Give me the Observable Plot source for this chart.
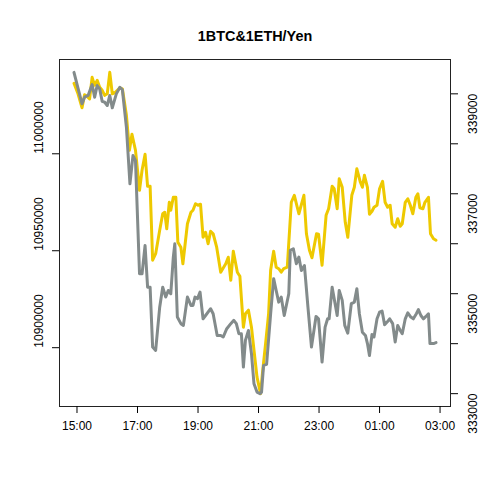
<!DOCTYPE html>
<html>
<head>
<meta charset="utf-8">
<script src="https://cdn.jsdelivr.net/npm/d3@7"></script>
<script src="https://cdn.jsdelivr.net/npm/@observablehq/plot@0.6"></script>
<style>
  body { margin: 0; background: white; }
</style>
</head>
<body>
<div id="chart"></div>
<script>
const title = "1BTC&1ETH/Yen";

const btcTimes = ["14:54","15:10","15:15","15:22","15:30","15:35","15:40","15:45","15:50","15:55",
"16:00","16:05","16:10","16:18","16:25","16:30","16:38","16:45","16:51","16:56",
"17:04","17:09","17:15","17:20","17:25","17:30","17:36","17:44","17:50","17:56",
"18:01","18:06","18:11","18:14","18:19","18:26","18:31","18:39","18:46","18:50",
"18:54","18:59","19:04","19:10","19:15","19:25","19:30","19:38","19:45","19:50",
"19:57","20:05","20:11","20:16","20:21","20:26","20:30","20:34","20:40","20:46",
"20:51","20:57","21:03","21:06","21:10","21:16","21:24","21:30","21:35","21:40",
"21:45","21:51","22:00","22:03","22:09","22:15","22:20","22:25","22:31","22:38",
"22:45","22:54","22:59","23:06","23:12","23:17","23:20","23:26","23:36","23:40",
"23:46","23:51","23:57","00:04","00:10","00:15","00:20","00:26","00:32","00:36",
"00:40","00:45","00:49","00:55","01:00","01:05","01:10","01:15","01:20","01:26",
"01:31","01:36","01:41","01:45","01:51","01:56","02:02","02:07","02:13","02:17",
"02:22","02:27","02:32","02:37","02:40","02:47","02:52"];
const btcValues = [11042000,11025800,11029200,11030100,11035700,11029200,11035200,11033500,11027000,11026600,
11024900,11030100,11023700,11030900,11034300,11033000,11013700,10984500,10999100,10996500,
10938100,10938100,10952700,10931200,10931200,10900300,10898600,10920900,10931200,10926100,
10929500,10927800,10946700,10953600,10915800,10912400,10911500,10926100,10921800,10921800,
10926100,10925300,10928700,10914900,10916600,10920100,10917500,10906300,10906300,10905500,
10909800,10912400,10914100,10912400,10907200,10907200,10890000,10903800,10908900,10896900,
10881400,10877100,10876300,10877100,10890900,10891400,10917500,10935600,10929500,10923500,
10926100,10916600,10927800,10950200,10951000,10943300,10946700,10939800,10942400,10920900,
10900300,10916100,10914900,10892600,10910600,10914900,10914900,10931200,10916600,10929500,
10924400,10911500,10907500,10922700,10923500,10930400,10917500,10908000,10906300,10902100,
10896000,10906800,10905500,10914900,10918300,10918900,10911800,10913200,10914900,10912400,
10902900,10911500,10908900,10907200,10914900,10918000,10915800,10914900,10917500,10919600,
10916600,10914900,10916100,10917500,10902100,10902100,10902600];

const ethTimes = ["14:54","15:02","15:10","15:15","15:20","15:25","15:30","15:35","15:40","15:45",
"15:50","15:55","16:00","16:05","16:10","16:16","16:25","16:30","16:38","16:44",
"16:49","16:56","17:04","17:09","17:15","17:20","17:25","17:30","17:36","17:44",
"17:50","17:54","17:58","18:03","18:06","18:11","18:16","18:20","18:26","18:30",
"18:39","18:46","18:50","18:55","19:00","19:05","19:10","19:15","19:20","19:25",
"19:30","19:37","19:45","19:55","20:00","20:05","20:10","20:18","20:23","20:30",
"20:34","20:40","20:46","20:51","20:57","21:04","21:08","21:14","21:20","21:24",
"21:30","21:35","21:40","21:45","21:50","21:57","22:05","22:11","22:20","22:30",
"22:35","22:41","22:46","22:55","22:59","23:06","23:14","23:19","23:26","23:30",
"23:36","23:40","23:46","23:52","23:57","00:05","00:10","00:15","00:22","00:26",
"00:30","00:36","00:40","00:45","00:49","00:55","01:00","01:06","01:11","01:16",
"01:21","01:25","01:31","01:36","01:41","01:45","01:51","01:56","02:01","02:06",
"02:12","02:16","02:20","02:26","02:30","02:37","02:41","02:47","02:52"];
const ethValues = [339210,339000,338720,338980,338950,338900,339330,339170,339270,339130,
339070,338970,339000,339430,339000,339030,339120,339100,338570,337870,
338190,337870,337070,337470,337790,337150,337150,335670,335800,336270,
336600,336630,336300,336830,336670,336930,336930,336030,335930,335600,
336400,336630,336670,336800,336770,336790,336130,336230,336000,336250,
336200,335930,335430,335600,335730,335270,335850,335430,335350,334330,
334600,334670,334330,333870,333330,333000,333430,334000,334600,335470,
335850,335530,335500,335430,335500,335530,336830,336970,336600,336970,
336200,335870,335720,336200,336190,335570,336570,336700,337150,337100,
336700,337300,337130,336430,336130,336970,337130,337500,337230,337130,
337370,337130,336590,336650,336730,336770,337100,337250,336830,336730,
336770,336400,336330,336500,336350,336400,336830,336900,336770,336600,
336930,337000,336720,336700,336830,336930,336200,336100,336070];

const xTickTimes = ["15:00","17:00","19:00","21:00","23:00","01:00","03:00"];
const btcTicks = [10900000, 10950000, 11000000];
const ethTicks = [333000, 334000, 335000, 336000, 337000, 338000, 339000];
const ethLabels = [333000, 335000, 337000, 339000];

const btcDomain = [10869670, 11048630];
const ethDomain = [332743, 339687];

const parseT = s => {
  const [h, m] = s.split(":").map(Number);
  return new Date(Date.UTC(2018, 0, h < 12 ? 2 : 1, h, m));
};
const ethToBtc = d3.scaleLinear().domain(ethDomain).range(btcDomain);

const btcData = btcTimes.map((t, i) => ({date: parseT(t), value: btcValues[i]}));
const ethData = ethTimes.map((t, i) => ({date: parseT(t), value: ethToBtc(ethValues[i])}));
const xTicks = xTickTimes.map(parseT);

const chart = Plot.plot({
  width: 480,
  height: 480,
  marginTop: 59,
  marginRight: 30,
  marginBottom: 74,
  marginLeft: 59,
  style: {fontFamily: "'Liberation Sans', Arial, sans-serif", fontSize: "12px", background: "white", color: "black"},
  x: {type: "utc", domain: [new Date(Date.UTC(2018, 0, 1, 14, 25, 18)), new Date(Date.UTC(2018, 0, 2, 3, 20, 42))]},
  y: {domain: btcDomain},
  marks: [
    Plot.line(ethData, {x: "date", y: "value", stroke: "#EEC900", strokeWidth: 3}),
    Plot.line(btcData, {x: "date", y: "value", stroke: "#838B8B", strokeWidth: 3}),
    Plot.frame({stroke: "#222", strokeWidth: 1}),
    Plot.axisX(xTicks, {tickSize: 7, tickPadding: 8, tickFormat: d3.utcFormat("%H:%M"), label: null, fontSize: 12}),
    Plot.axisY(btcTicks, {anchor: "left", tickSize: 7, tickFormat: () => "", label: null}),
    Plot.text(btcTicks, {y: d => d, frameAnchor: "left", dx: -20, rotate: -90, text: d => String(d), fontSize: 12}),
    Plot.axisY(ethTicks.map(ethToBtc), {anchor: "right", tickSize: 7, tickFormat: () => "", label: null}),
    Plot.text(ethLabels, {y: d => ethToBtc(d), frameAnchor: "right", dx: 23, rotate: -90, text: d => String(d), fontSize: 12}),
    Plot.text([title], {frameAnchor: "top", dy: -29, text: d => d, fontWeight: "bold", fontSize: 14.4})
  ]
});
document.getElementById("chart").appendChild(chart);
</script>
</body>
</html>
